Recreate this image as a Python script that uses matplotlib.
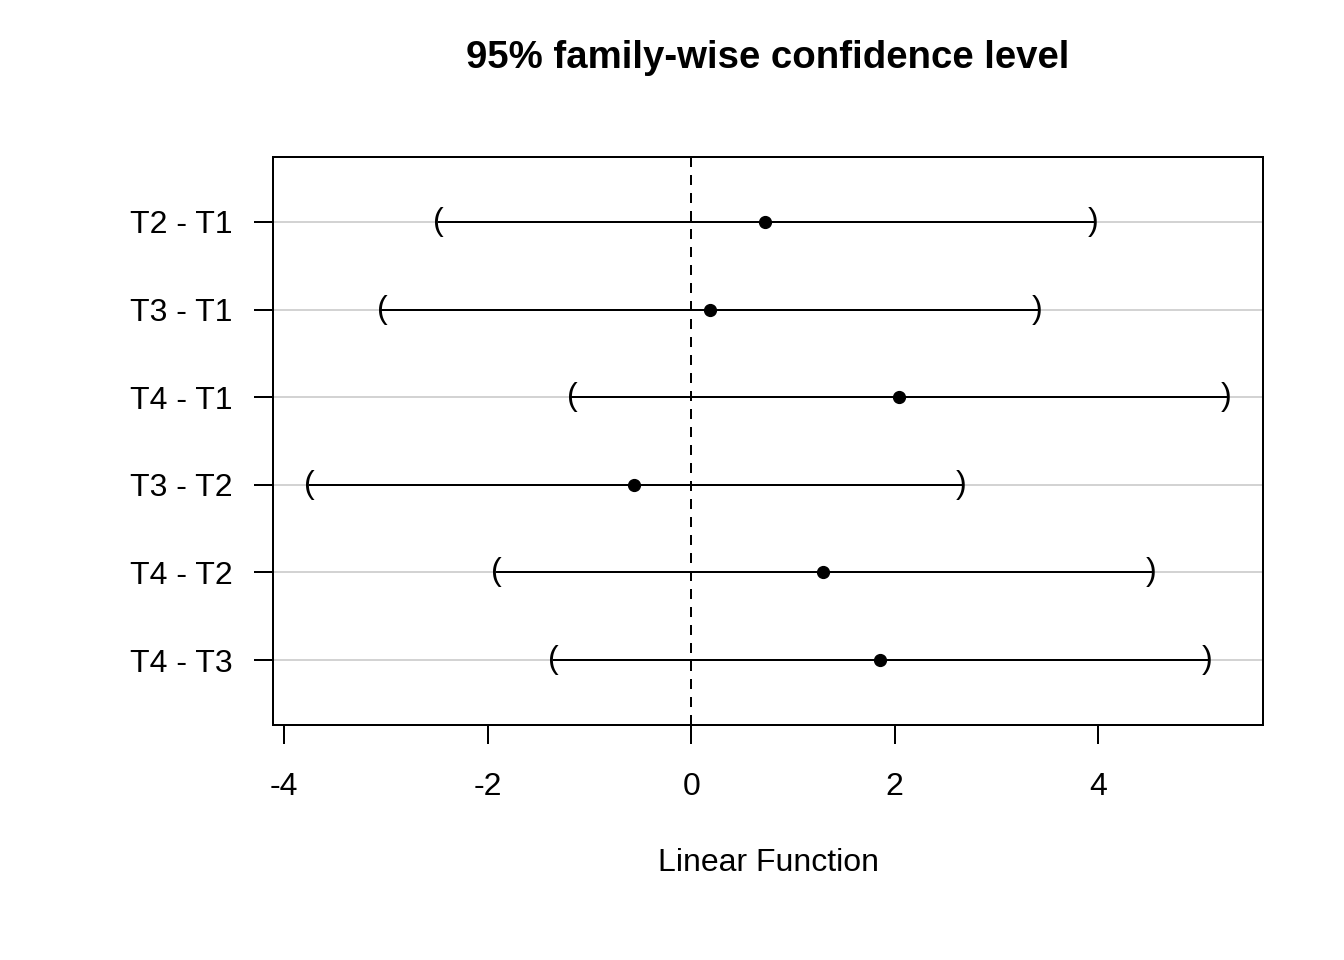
import matplotlib
matplotlib.use("Agg")
import matplotlib.pyplot as plt
import numpy as np

plt.rcParams["font.family"] = ["Liberation Sans", "DejaVu Sans"]

# Tukey contrasts, top row first
contrasts = ["T2 - T1", "T3 - T1", "T4 - T1", "T3 - T2", "T4 - T2", "T4 - T3"]
estimate = [0.73, 0.18, 2.04, -0.56, 1.30, 1.86]
lower = [-2.48, -3.04, -1.17, -3.75, -1.91, -1.35]
upper = [3.95, 3.40, 5.26, 2.65, 4.52, 5.07]

fig = plt.figure(figsize=(13.44, 9.6), dpi=100)
ax = fig.add_axes([273 / 1344, 1 - 725 / 960, 990 / 1344, 568 / 960])

n = len(contrasts)
ypos = np.arange(n, 0, -1)
lw = 1.44

# grey guide lines
for y in ypos:
    ax.axhline(y, color="#d3d3d3", lw=lw, zorder=1)

ax.axvline(0, color="black", lw=lw, linestyle=(0, (5, 4)), zorder=2)

for y, est, lo, hi in zip(ypos, estimate, lower, upper):
    ax.plot([lo, hi], [y, y], color="black", lw=lw, zorder=3)
    ax.plot(est, y, "o", color="black", ms=8.5, zorder=4)
    ax.text(lo, y, "(", ha="center", va="center", fontsize=23, zorder=4)
    ax.text(hi, y, ")", ha="center", va="center", fontsize=23, zorder=4)

lo_all, hi_all = min(lower), max(upper)
pad = 0.04 * (hi_all - lo_all)
ax.set_xlim(lo_all - pad, hi_all + pad)
ax.set_ylim(0.5 - 0.24, n + 0.5 + 0.24)

ax.set_yticks(ypos)
ax.set_yticklabels(contrasts)
ax.set_xticks([-4, -2, 0, 2, 4])
ax.set_xticklabels(["-4", "-2", "0", "2", "4"])
ax.tick_params(axis="both", direction="out", length=14, width=lw,
               labelsize=23)
ax.tick_params(axis="x", pad=20)
ax.tick_params(axis="y", pad=15)
for sp in ax.spines.values():
    sp.set_linewidth(lw)

ax.set_xlabel("Linear Function", fontsize=23, labelpad=33)
fig.text(0.5 + (273 + 495 - 672) / 1344, 1 - 58 / 960,
         "95% family-wise confidence level",
         ha="center", va="center", fontsize=27.6, fontweight="bold")

fig.savefig("out.png", dpi=100)
